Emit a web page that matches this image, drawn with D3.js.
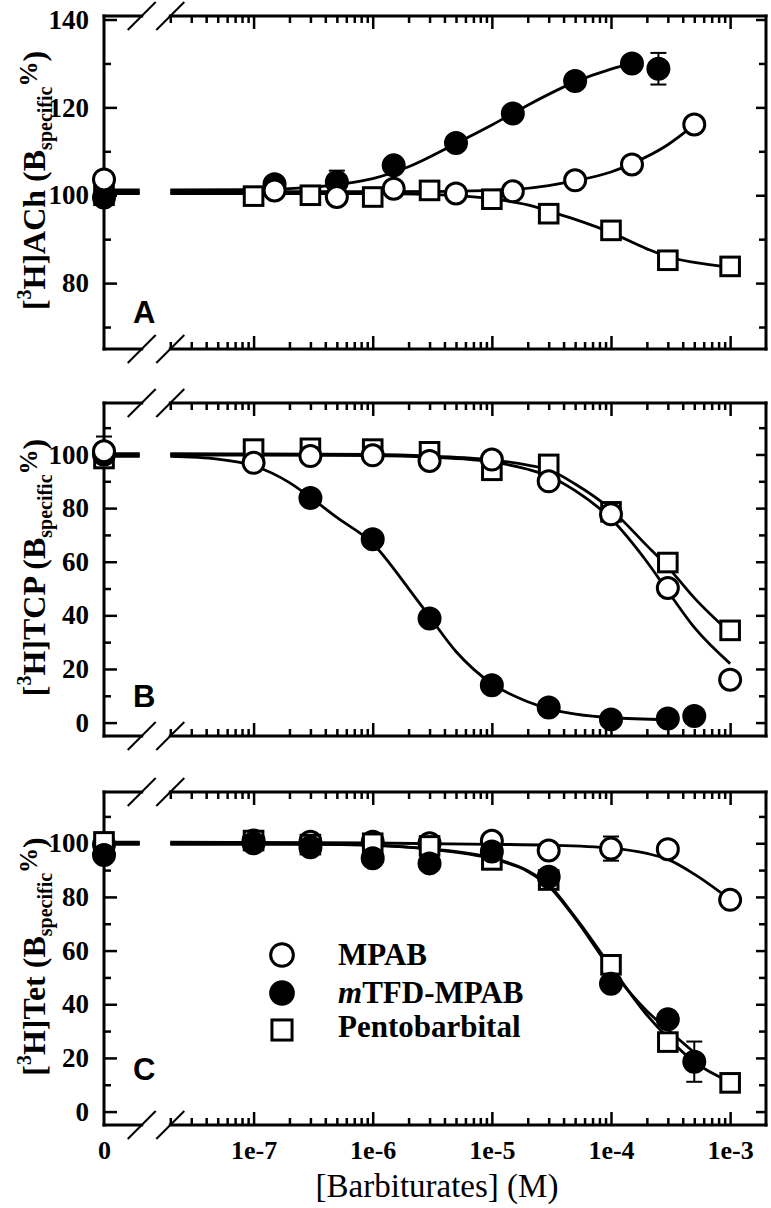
<!DOCTYPE html>
<html><head><meta charset="utf-8">
<script src="https://cdn.jsdelivr.net/npm/d3@7"></script>
<style>body{margin:0;background:#fff}svg{display:block}</style>
</head><body>
<svg id="chart" width="771" height="1208"></svg>
<script>
// ---------- DATA ----------
const xTickLabels = ["0","1e-7","1e-6","1e-5","1e-4","1e-3"];
const xTickValues = [0,1e-7,1e-6,1e-5,1e-4,1e-3];
const seriesNames = ["MPAB","mTFD-MPAB","Pentobarbital"];
const panelLetters = ["A","B","C"];
const yTitleNames = ["ACh","TCP","Tet"];
const yMajorA = [80,100,120,140], yMinorA = [70,90,110,130];
const yMajorBC = [0,20,40,60,80,100], yMinorBC = [10,30,50,70,90,110];

// Panel A
const concA_mpab = [0,1.5e-7,5e-7,1.5e-6,5e-6,1.5e-5,5e-5,1.5e-4,5e-4];
const valA_mpab  = [103.6,101.1,99.6,101.5,100.4,100.9,103.4,107.0,116.1];
const errA_mpab  = [0,0,0,0,0,0,0,0,0];
const concA_mtfd = [0,1.5e-7,5e-7,1.5e-6,5e-6,1.5e-5,5e-5,1.5e-4,2.5e-4];
const valA_mtfd  = [99.5,102.5,103.0,106.8,111.9,118.6,126.0,130.0,128.8];
const errA_mtfd  = [0,0,2.6,0,0,0,0,0,3.6];
const concA_pento = [0,1e-7,3e-7,1e-6,3e-6,1e-5,3e-5,1e-4,3e-4,1e-3];
const valA_pento  = [100.0,99.8,100.0,99.6,101.1,99.1,95.8,92.0,85.2,83.8];
const errA_pento  = [0,0,0,0,0,0,0,0,0,0];
// fitted curves
const fitA_mpab_c = [2e-8,1e-6,5e-6,1.5e-5,3e-5,5e-5,1e-4,1.5e-4,3e-4,5e-4];
const fitA_mpab_v = [100.8,100.8,100.9,101.3,102.2,103.3,105.3,107.2,111.5,116.0];
const fitA_mtfd_c = [2e-8,1e-7,3e-7,6e-7,1e-6,2e-6,5e-6,1e-5,2e-5,5e-5,1e-4,1.5e-4];
const fitA_mtfd_v = [101.2,101.3,101.8,102.7,103.8,106.5,111.8,116.0,120.5,125.8,128.7,130.0];
const fitA_pento_c = [2e-8,1e-6,3e-6,1e-5,2e-5,3e-5,5e-5,1e-4,2e-4,3e-4,5e-4,1e-3];
const fitA_pento_v = [100.4,100.4,100.2,99.2,97.8,96.4,94.5,91.5,87.8,86.0,84.7,83.6];

// Panel B
const concB_mpab = [0,1e-7,3e-7,1e-6,3e-6,1e-5,3e-5,1e-4,3e-4,1e-3];
const valB_mpab  = [101.2,96.9,99.4,99.7,97.6,98.1,90.0,77.7,50.2,16.0];
const errB_mpab  = [5.5,0,0,0,0,0,0,0,0,0];
const concB_mtfd = [0,3e-7,1e-6,3e-6,1e-5,3e-5,1e-4,3e-4,5e-4];
const valB_mtfd  = [100.0,83.8,68.4,38.8,13.9,5.6,1.2,1.5,2.5];
const errB_mtfd  = [0,0,0,0,0,0,0,0,0];
const concB_pento = [0,1e-7,3e-7,1e-6,3e-6,1e-5,3e-5,1e-4,3e-4,1e-3];
const valB_pento  = [98.5,102.0,102.3,102.0,101.0,94.1,96.3,78.6,59.7,34.4];
const errB_pento  = [0,0,0,0,0,0,0,0,0,0];
const fitB_mpab_c = [2e-8,1e-6,3e-6,1e-5,2e-5,3e-5,5e-5,1e-4,2e-4,3e-4,5e-4,1e-3];
const fitB_mpab_v = [99.8,99.6,99.0,97.2,94.5,92.0,86.5,76.0,60.0,49.0,35.5,22.0];
const fitB_mtfd_c = [2e-8,5e-8,1e-7,2e-7,3e-7,5e-7,1e-6,2e-6,3e-6,5e-6,1e-5,2e-5,3e-5,1e-4,3e-4];
const fitB_mtfd_v = [99.3,98.3,95.8,89.5,84.0,76.5,66.8,50.0,39.5,26.5,14.5,7.8,5.2,1.8,1.1];
const fitB_pento_c = [2e-8,1e-6,3e-6,1e-5,2e-5,3e-5,5e-5,1e-4,2e-4,3e-4,5e-4,1e-3];
const fitB_pento_v = [100.3,100.0,99.4,98.0,96.0,94.3,89.0,79.5,66.0,58.0,46.5,33.5];

// Panel C
const concC_mpab = [0,1e-7,3e-7,1e-6,3e-6,1e-5,3e-5,1e-4,3e-4,1e-3];
const valC_mpab  = [99.5,101.0,100.6,100.6,100.0,100.9,97.3,98.0,97.8,78.9];
const errC_mpab  = [0,0,0,0,0,0,0,4.5,0,0];
const concC_mtfd = [0,1e-7,3e-7,1e-6,3e-6,1e-5,3e-5,1e-4,3e-4,5e-4];
const valC_mtfd  = [95.6,100.0,98.5,94.4,92.5,96.9,87.5,47.6,34.4,18.6];
const errC_mtfd  = [0,0,0,0,0,0,0,0,0,7.5];
const concC_pento = [0,1e-7,3e-7,1e-6,3e-6,1e-5,3e-5,1e-4,3e-4,1e-3];
const valC_pento  = [100.5,101.0,99.5,100.0,99.0,93.8,86.3,54.7,25.9,10.7];
const errC_pento  = [0,0,0,0,0,0,0,0,0,0];
const fitC_mpab_c = [2e-8,1e-6,1e-5,3e-5,1e-4,2e-4,3e-4,5e-4,1e-3];
const fitC_mpab_v = [100.4,100.1,99.6,99.3,98.2,96.2,94.0,88.5,79.0];
const fitC_mtfd_c = [2e-8,3e-7,1e-6,3e-6,1e-5,2e-5,3e-5,5e-5,1e-4,2e-4,3e-4,5e-4];
const fitC_mtfd_v = [99.6,99.6,99.2,97.8,94.2,89.5,84.0,72.0,53.0,37.5,30.5,22.0];
const fitC_pento_c = [2e-8,3e-7,1e-6,3e-6,1e-5,2e-5,3e-5,5e-5,1e-4,2e-4,3e-4,5e-4,1e-3];
const fitC_pento_v = [100.0,99.8,99.3,97.9,94.5,89.8,84.5,72.5,54.0,36.0,27.5,18.5,11.0];

// ---------- LAYOUT ----------
const svg = d3.select("#chart");
const SERIF = '"Liberation Serif","Times New Roman",serif';
const SANS = '"Liberation Sans",Arial,sans-serif';
const xL = 104, xBrk1 = 141.7, xBrk2 = 170.3, xR = 766;
const xLog = d3.scaleLog().domain([2e-8, 2e-3]).range([xBrk2, xR]);
const xZero = d3.scaleLinear().domain([0, 1]).range([xL, xBrk1]);
const xPos = c => c === 0 ? xZero(0) : xLog(c);

const panels = [
  {top:16, bottom:349, dom:[65,140.8], major:yMajorA, minor:yMinorA, letterY:323,
   series:[
     {name:"pento", conc:concA_pento, val:valA_pento, err:errA_pento, fc:fitA_pento_c, fv:fitA_pento_v},
     {name:"mtfd", conc:concA_mtfd, val:valA_mtfd, err:errA_mtfd, fc:fitA_mtfd_c, fv:fitA_mtfd_v},
     {name:"mpab", conc:concA_mpab, val:valA_mpab, err:errA_mpab, fc:fitA_mpab_c, fv:fitA_mpab_v}]},
  {top:403, bottom:736, dom:[-5,119.2], major:yMajorBC, minor:yMinorBC, letterY:707,
   series:[
     {name:"pento", conc:concB_pento, val:valB_pento, err:errB_pento, fc:fitB_pento_c, fv:fitB_pento_v},
     {name:"mtfd", conc:concB_mtfd, val:valB_mtfd, err:errB_mtfd, fc:fitB_mtfd_c, fv:fitB_mtfd_v},
     {name:"mpab", conc:concB_mpab, val:valB_mpab, err:errB_mpab, fc:fitB_mpab_c, fv:fitB_mpab_v}]},
  {top:792, bottom:1125, dom:[-5,119.1], major:yMajorBC, minor:yMinorBC, letterY:1080,
   series:[
     {name:"mpab", conc:concC_mpab, val:valC_mpab, err:errC_mpab, fc:fitC_mpab_c, fv:fitC_mpab_v},
     {name:"pento", conc:concC_pento, val:valC_pento, err:errC_pento, fc:fitC_pento_c, fv:fitC_pento_v},
     {name:"mtfd", conc:concC_mtfd, val:valC_mtfd, err:errC_mtfd, fc:fitC_mtfd_c, fv:fitC_mtfd_v}]}
];

function drawMarker(g, name, x, y, big) {
  const s = big ? 1.08 : 1;
  if (name === "pento") {
    const h = 9.3*s;
    g.append("rect").attr("x", x-h).attr("y", y-h).attr("width",2*h).attr("height",2*h)
      .attr("fill","#fff").attr("stroke","#000").attr("stroke-width",3);
  } else {
    g.append("circle").attr("cx",x).attr("cy",y).attr("r",10.5*s)
      .attr("fill", name==="mtfd" ? "#000" : "#fff").attr("stroke","#000").attr("stroke-width",3);
  }
}

const minorX = [];
for (let e = -8; e <= -4; e++) for (let m = 2; m <= 9; m++) minorX.push(m*Math.pow(10,e));
const majorX = xTickValues.filter(v => v > 0);

function styleTickText(sel, size) {
  sel.selectAll("text")
    .attr("font-family", SERIF).attr("font-weight","bold").attr("font-size", size)
    .style("font-family", SERIF).style("font-weight","bold").style("font-size", size+"px")
    .attr("fill","#000");
}

panels.forEach((p, pi) => {
  const y = d3.scaleLinear().domain(p.dom).range([p.bottom, p.top]);
  const g = svg.append("g");

  const yAx = g.append("g").attr("transform",`translate(${xL},0)`)
    .call(d3.axisLeft(y).tickValues(p.major).tickSize(-13).tickPadding(15).tickFormat(d3.format("d")));
  yAx.select(".domain").remove();
  yAx.selectAll("line").attr("stroke","#000").attr("stroke-width",2.5);
  styleTickText(yAx, 27);
  const yAxm = g.append("g").attr("transform",`translate(${xL},0)`)
    .call(d3.axisLeft(y).tickValues(p.minor).tickSize(-7).tickFormat(""));
  yAxm.select(".domain").remove();
  yAxm.selectAll("line").attr("stroke","#000").attr("stroke-width",2.5);
  [[p.major,10],[p.minor,7]].forEach(([vals,len]) => {
    const a = g.append("g").attr("transform",`translate(${xR},0)`)
      .call(d3.axisRight(y).tickValues(vals).tickSize(-len).tickFormat(""));
    a.select(".domain").remove();
    a.selectAll("line").attr("stroke","#000").attr("stroke-width",2.5);
  });
  [[p.bottom, d3.axisBottom],[p.top, d3.axisTop]].forEach(([yy, fn]) => {
    const a1 = g.append("g").attr("transform",`translate(0,${yy})`)
      .call(fn(xLog).tickValues(majorX).tickSize(-13).tickFormat(""));
    const a2 = g.append("g").attr("transform",`translate(0,${yy})`)
      .call(fn(xLog).tickValues(minorX).tickSize(-7).tickFormat(""));
    [a1,a2].forEach(a => { a.select(".domain").remove(); a.selectAll("line").attr("stroke","#000").attr("stroke-width",2.5); });
  });
  if (pi === 2) {
    const lab = g.append("g").attr("transform",`translate(0,${p.bottom})`)
      .call(d3.axisBottom(xLog).tickValues(majorX).tickSize(0).tickPadding(16)
        .tickFormat(d => xTickLabels[xTickValues.indexOf(d)]));
    lab.select(".domain").remove();
    styleTickText(lab, 26);
    const lab0 = g.append("g").attr("transform",`translate(0,${p.bottom})`)
      .call(d3.axisBottom(xZero).tickValues([0]).tickSize(0).tickPadding(16)
        .tickFormat(() => xTickLabels[0]));
    lab0.select(".domain").remove();
    styleTickText(lab0, 26);
  }

  const fr = [
    [[xL,p.top],[xL,p.bottom]],
    [[xR,p.top],[xR,p.bottom]],
    [[xL,p.top],[xBrk1,p.top]], [[xBrk2,p.top],[xR,p.top]],
    [[xL,p.bottom],[xBrk1,p.bottom]], [[xBrk2,p.bottom],[xR,p.bottom]]
  ];
  fr.forEach(s => g.append("path").attr("d", d3.line()(s)).attr("stroke","#000")
    .attr("stroke-width",3).attr("stroke-linecap","square").attr("fill","none"));
  [p.top, p.bottom].forEach(yy => [xBrk1, xBrk2].forEach(xx => {
    g.append("line").attr("x1",xx-14).attr("y1",yy+14).attr("x2",xx+14).attr("y2",yy-14)
      .attr("stroke","#000").attr("stroke-width",2);
  }));

  const line = d3.line().x(d => xLog(d[0])).y(d => y(d[1])).curve(d3.curveMonotoneX);
  p.series.forEach(s => {
    g.append("path").attr("d", line(s.fc.map((c,i)=>[c,s.fv[i]])))
      .attr("fill","none").attr("stroke","#000").attr("stroke-width",2.8);
    g.append("line").attr("x1", xZero(0)).attr("x2", xBrk1 - 2)
      .attr("y1", y(s.fv[0])).attr("y2", y(s.fv[0]))
      .attr("stroke","#000").attr("stroke-width",2.8);
  });
  p.series.forEach(s => {
    s.conc.forEach((c,i) => {
      const e = s.err[i];
      if (e > 0) {
        const x = xPos(c), y1 = y(s.val[i]+e), y2 = y(s.val[i]-e);
        g.append("line").attr("x1",x).attr("x2",x).attr("y1",y1).attr("y2",y2).attr("stroke","#000").attr("stroke-width",2);
        [y1,y2].forEach(yy => g.append("line").attr("x1",x-8).attr("x2",x+8).attr("y1",yy).attr("y2",yy).attr("stroke","#000").attr("stroke-width",2));
      }
    });
  });
  p.series.forEach(s => {
    s.conc.forEach((c,i) => drawMarker(g, s.name, xPos(c), y(s.val[i])));
  });

  g.append("text").attr("x",133).attr("y",p.letterY).text(panelLetters[pi])
    .style("font", `bold 31px ${SANS}`).attr("fill","#000");

  const cy = (p.top + p.bottom)/2 - 2;
  const t = g.append("text").attr("transform",`translate(45,${cy}) rotate(-90)`)
    .attr("text-anchor","middle").style("font", `bold 32px ${SERIF}`).attr("fill","#000");
  t.append("tspan").text("[");
  t.append("tspan").attr("font-size",20).attr("dy",-14).text("3");
  t.append("tspan").attr("dy",14).text("H]" + yTitleNames[pi] + " (B");
  t.append("tspan").attr("font-size",20).attr("dy",7).text("specific");
  t.append("tspan").attr("font-size",25).attr("dy",-15).text("%");
  t.append("tspan").attr("dy",8).text(")");
});

svg.append("text").attr("x",437).attr("y",1197).attr("text-anchor","middle")
  .style("font", `33px ${SERIF}`).attr("fill","#000").text("[Barbiturates] (M)");

const legKeys = ["mpab","mtfd","pento"];
const legMarkY = [955, 993, 1030];
const legTextY = [965, 1003, 1037];
legKeys.forEach((k,i) => {
  const lg = svg.append("g");
  drawMarker(lg, k, 282, legMarkY[i], true);
  const tx = lg.append("text").attr("x",338).attr("y",legTextY[i]).style("font", `bold 31px ${SERIF}`).attr("fill","#000");
  if (k === "mtfd") {
    tx.append("tspan").style("font-style","italic").text("m");
    tx.append("tspan").text("TFD-MPAB");
  } else tx.text(seriesNames[i]);
});
</script>
</body></html>
